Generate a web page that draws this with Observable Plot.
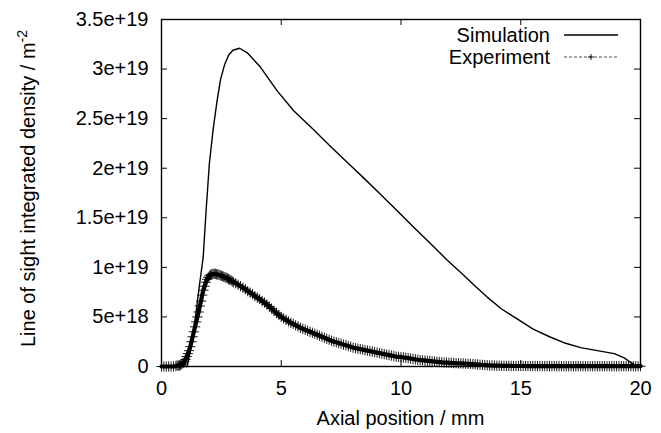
<!DOCTYPE html>
<html><head><meta charset="utf-8">
<script src="https://cdn.jsdelivr.net/npm/d3@7"></script>
<script src="https://cdn.jsdelivr.net/npm/@observablehq/plot@0.6"></script>
<style>body{margin:0;background:#fff;}</style>
</head><body><div id="chart"></div>
<script>
const xTicks = [0, 5, 10, 15, 20];
const yTicks = [0, 5e18, 1e19, 1.5e19, 2e19, 2.5e19, 3e19, 3.5e19];
const yTickLabels = ["0", "5e+18", "1e+19", "1.5e+19", "2e+19", "2.5e+19", "3e+19", "3.5e+19"];
const seriesNames = ["Simulation", "Experiment"];

// Simulation: axial position (mm), density (1e19 m^-2)
const simX = [0, 0.5, 1.0, 1.07, 1.2, 1.42, 1.6, 1.74, 1.87, 2.0, 2.16, 2.32, 2.47, 2.63, 2.8, 2.98, 3.26, 3.6, 4.13, 4.83, 5.52, 6.3, 7.06, 7.75, 8.45, 9.15, 9.84, 10.55, 11.23, 11.9, 12.62, 13.1, 13.6, 14.2, 14.85, 15.5, 16.2, 16.8, 17.5, 18.2, 18.9, 19.3, 19.6, 19.8, 20];
const simY = [0, 0, 0, 0, 0.15, 0.5, 0.85, 1.1, 1.6, 2.05, 2.4, 2.68, 2.9, 3.04, 3.14, 3.19, 3.21, 3.16, 3.02, 2.78, 2.58, 2.40, 2.22, 2.06, 1.90, 1.735, 1.57, 1.40, 1.24, 1.08, 0.92, 0.81, 0.70, 0.58, 0.48, 0.38, 0.30, 0.24, 0.19, 0.16, 0.13, 0.09, 0.04, 0.01, 0];

// Experiment: axial position (mm), density (1e18 m^-2)
const expX = [0, 0.1, 0.2, 0.3, 0.4, 0.5, 0.6, 0.65, 0.7, 0.75, 0.8, 0.85, 0.9, 0.95, 1.0, 1.05, 1.1, 1.15, 1.2, 1.25, 1.3, 1.35, 1.4, 1.45, 1.5, 1.55, 1.6, 1.65, 1.7, 1.75, 1.8, 1.85, 1.9, 1.95, 2.0, 2.05, 2.1, 2.15, 2.2, 2.25, 2.3, 2.35, 2.4, 2.45, 2.5, 2.55, 2.6, 2.65, 2.7, 2.75, 2.8, 2.85, 2.9, 2.95, 3.0,
  3.1, 3.2, 3.3, 3.4, 3.5, 3.6, 3.7, 3.8, 3.9, 4.0, 4.1, 4.2, 4.3, 4.4, 4.5, 4.6, 4.7, 4.8, 4.9, 5.0, 5.1, 5.2, 5.3, 5.4, 5.5, 5.6, 5.7, 5.8, 5.9, 6.0, 6.1, 6.2, 6.3, 6.4, 6.5, 6.6, 6.7, 6.8, 6.9, 7.0, 7.1, 7.2, 7.3, 7.4, 7.5, 7.6, 7.7, 7.8, 7.9, 8.0,
  8.1, 8.2, 8.3, 8.4, 8.5, 8.6, 8.7, 8.8, 8.9, 9.0, 9.1, 9.2, 9.3, 9.4, 9.5, 9.6, 9.7, 9.8, 9.9, 10.0,
  10.1, 10.2, 10.3, 10.4, 10.5, 10.6, 10.7, 10.8, 10.9, 11.0, 11.1, 11.2, 11.3, 11.4, 11.5, 11.6, 11.7, 11.8, 11.9, 12.0,
  12.1, 12.2, 12.3, 12.4, 12.5, 12.6, 12.7, 12.8, 12.9, 13.0, 13.1, 13.2, 13.3, 13.4, 13.5, 13.6, 13.7, 13.8, 13.9, 14.0,
  14.1, 14.2, 14.3, 14.4, 14.5, 14.6, 14.7, 14.8, 14.9, 15.0, 15.1, 15.2, 15.3, 15.4, 15.5, 15.6, 15.7, 15.8, 15.9, 16.0,
  16.1, 16.2, 16.3, 16.4, 16.5, 16.6, 16.7, 16.8, 16.9, 17.0, 17.1, 17.2, 17.3, 17.4, 17.5, 17.6, 17.7, 17.8, 17.9, 18.0,
  18.1, 18.2, 18.3, 18.4, 18.5, 18.6, 18.7, 18.8, 18.9, 19.0, 19.1, 19.2, 19.3, 19.4, 19.5, 19.6, 19.7, 19.8, 19.9, 20.0];
const expY = [0, 0, 0, 0, 0, 0, 0.05, 0.1, 0.1, 0.1, 0.15, 0.25, 0.35, 0.5, 0.7, 1.0, 1.3, 1.6, 2.0, 2.5, 3.0, 3.5, 4.0, 4.5, 5.0, 5.5, 6.1, 6.6, 7.2, 7.7, 8.1, 8.5, 8.8, 9.0, 9.15, 9.25, 9.3, 9.35, 9.35, 9.35, 9.3, 9.28, 9.25, 9.2, 9.15, 9.1, 9.05, 9.0, 8.95, 8.9, 8.8, 8.75, 8.7, 8.6, 8.5,
  8.4, 8.25, 8.1, 7.95, 7.8, 7.6, 7.45, 7.3, 7.1, 6.95, 6.8, 6.6, 6.45, 6.25, 6.05, 5.85, 5.6, 5.4, 5.2, 5.0, 4.85, 4.7, 4.55, 4.4, 4.3, 4.15, 4.05, 3.9, 3.8, 3.7, 3.6, 3.5, 3.4, 3.3, 3.2, 3.1, 3.0, 2.9, 2.8, 2.7, 2.6, 2.5, 2.45, 2.35, 2.3, 2.2, 2.15, 2.05, 2.0, 1.9,
  1.85, 1.8, 1.75, 1.7, 1.65, 1.6, 1.55, 1.5, 1.45, 1.4, 1.35, 1.3, 1.25, 1.2, 1.15, 1.1, 1.05, 1.0, 0.97, 0.95,
  0.91, 0.88, 0.84, 0.8, 0.76, 0.72, 0.68, 0.65, 0.62, 0.6, 0.57, 0.55, 0.52, 0.5, 0.47, 0.45, 0.42, 0.4, 0.39, 0.38,
  0.36, 0.35, 0.33, 0.32, 0.31, 0.3, 0.28, 0.27, 0.25, 0.24, 0.22, 0.2, 0.18, 0.16, 0.14, 0.13, 0.11, 0.1, 0.09, 0.08,
  0.08, 0.07, 0.07, 0.06, 0.06, 0.06, 0.05, 0.05, 0.05, 0.05, 0.05, 0.05, 0.04, 0.04, 0.04, 0.04, 0.04, 0.04, 0.04, 0.04,
  0.04, 0.04, 0.04, 0.04, 0.03, 0.03, 0.03, 0.03, 0.03, 0.03, 0.03, 0.03, 0.03, 0.03, 0.03, 0.03, 0.03, 0.03, 0.03, 0.03,
  0.03, 0.03, 0.03, 0.03, 0.03, 0.03, 0.03, 0.03, 0.03, 0.03, 0.03, 0.03, 0.03, 0.03, 0.03, 0.03, 0.03, 0.03, 0.03, 0.03];

const sim = simX.map((x, i) => ({x, y: simY[i] * 1e19}));
const exp = expX.map((x, i) => ({x, y: expY[i] * 1e18}));

const W = 661, H = 433, mL = 161, mR = 21, mT = 19, mB = 67;
const innerH = H - mT - mB, innerW = W - mL - mR;
const FONT = "'Liberation Sans', Arial, Helvetica, sans-serif";
const FS = 20;

function overlay(index, scales, values, dims) {
  const g = d3.create("svg:g").attr("font-family", FONT).attr("font-size", FS).attr("fill", "black");
  const right = dims.width - dims.marginRight;
  const top = dims.marginTop;
  const rows = [{name: seriesNames[0], dy: 16, dash: null}, {name: seriesNames[1], dy: 38, dash: "3,2"}];
  rows.forEach((r, i) => {
    const y = top + r.dy;
    g.append("text").attr("x", right - 90).attr("y", y).attr("dy", "0.35em").attr("text-anchor", "end").text(r.name);
    const ln = g.append("line").attr("x1", right - 76).attr("x2", right - 22).attr("y1", y).attr("y2", y)
      .attr("stroke", "black").attr("stroke-width", i === 0 ? 1.4 : 0.7);
    if (r.dash) {
      ln.attr("stroke-dasharray", r.dash);
      const cx = right - 49;
      g.append("path").attr("d", `M${cx - 3},${y}h6M${cx},${y - 3}v6`).attr("stroke", "black").attr("stroke-width", 0.9);
    }
  });
  const yt = g.append("text").attr("transform", `translate(35,${top + innerH / 2 - 4}) rotate(-90)`).attr("text-anchor", "middle");
  yt.append("tspan").text("Line of sight integrated density / m");
  yt.append("tspan").attr("font-size", 14).attr("dy", -8).text("-2");
  g.append("text").attr("x", dims.marginLeft + innerW / 2).attr("y", H - 8).attr("text-anchor", "middle").text("Axial position / mm");
  return g.node();
}

const chart = Plot.plot({
  width: W, height: H,
  marginLeft: mL, marginRight: mR, marginTop: mT, marginBottom: mB,
  style: {fontFamily: FONT, fontSize: FS + "px", background: "white", color: "black"},
  x: {domain: [0, 20]},
  y: {domain: [0, 3.5e19]},
  marks: [
    // dense experimental markers merge into a solid band in the reference
    Plot.line(exp, {x: "x", y: "y", stroke: "black", strokeWidth: 4.2, curve: "monotone-x"}),
    Plot.dot(exp, {x: "x", y: "y", symbol: "plus", r: 3.4, stroke: "black", strokeWidth: 0.9}),
    Plot.line(sim, {x: "x", y: "y", stroke: "black", strokeWidth: 1.4}),
    Plot.tickX(xTicks, {x: d => d, insetTop: innerH - 6, stroke: "black", strokeWidth: 1}),
    Plot.tickX(xTicks, {x: d => d, insetBottom: innerH - 6, stroke: "black", strokeWidth: 1}),
    Plot.tickY(yTicks, {y: d => d, insetRight: innerW - 6, stroke: "black", strokeWidth: 1}),
    Plot.tickY(yTicks, {y: d => d, insetLeft: innerW - 6, stroke: "black", strokeWidth: 1}),
    Plot.frame({stroke: "black", strokeWidth: 1.4}),
    Plot.axisX(xTicks, {tickSize: 0, tickPadding: 14, label: null, fontSize: FS}),
    Plot.axisY(yTicks, {tickSize: 0, tickPadding: 13, label: null, fontSize: FS, tickFormat: d => yTickLabels[yTicks.indexOf(d)]}),
    overlay
  ]
});
document.getElementById("chart").appendChild(chart);
</script>
</body></html>
